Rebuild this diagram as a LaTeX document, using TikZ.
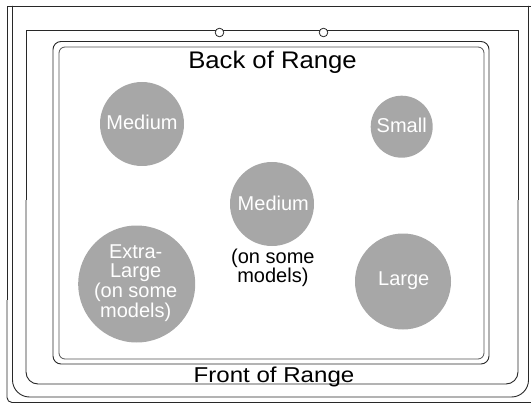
\documentclass[tikz,border=0pt]{standalone}
\usepackage{fontspec}
\setmainfont{Liberation Sans}
\definecolor{burnergray}{RGB}{167,167,167}
\definecolor{linedark}{RGB}{40,40,40}
\tikzset{
  frameline/.style={draw=linedark, line width=0.9pt},
  innerline/.style={draw=linedark!80, line width=0.8pt},
  burner/.style={circle, fill=burnergray, draw=none, inner sep=0pt},
  knob/.style={circle, draw=linedark, fill=white, line width=0.8pt, inner sep=0pt, minimum size=8.6pt},
  lbl/.style={anchor=base, inner sep=0pt, text=white, font=\fontsize{20}{20}\selectfont},
  blbl/.style={anchor=base, inner sep=0pt, text=black, font=\fontsize{20}{20}\selectfont},
  title/.style={anchor=base, inner sep=0pt, text=black}
}
\begin{document}
\begin{tikzpicture}[x=1pt,y=-1pt]
\useasboundingbox (0,0) rectangle (531,404);
\begin{scope}
\clip (0,0) rectangle (531,404);
% outermost frame line A
\draw[frameline] (545,6) -- (7,6) -- (7,300);
\draw[frameline, rounded corners=5] (7,300) -- (7,402.5) -- (545,402.5);
% frame line B
\draw[frameline, rounded corners=17] (12.5,6) -- (12.5,397) -- (528.5,397) -- (528.5,6);
% cooktop edge C
\draw[frameline] (26,200) -- (26,30.5) -- (518,30.5) -- (518,200);
\draw[frameline, rounded corners=12] (26,200) -- (26,384) -- (518,384) -- (518,200);
% glass surface D and E
\draw[frameline, rounded corners=8] (53,41.5) rectangle (489,364);
\draw[innerline, rounded corners=6] (59,47) rectangle (484,359);
\end{scope}
% knobs on the back edge
\node[knob] (k1) at (219.5,32.5) {};
\node[knob] (k2) at (323.5,32.5) {};
% burners
\node[burner, minimum size=84pt] (b1) at (142,124) {};
\node[burner, minimum size=62pt] (b2) at (401.7,126.7) {};
\node[burner, minimum size=84pt] (b3) at (272,204) {};
\node[burner, minimum size=117pt] (b4) at (136.7,284) {};
\node[burner, minimum size=96pt] (b5) at (403,281.5) {};
% labels
\node[lbl] (t1) at (142,129.3) {Medium};
\node[lbl] (t2) at (401.7,132.7) {Small};
\node[lbl] (t3) at (273.3,210.7) {Medium};
\node[blbl] (t3a) at (272.9,263.3) {(on some};
\node[blbl] (t3b) at (272.9,282.7) {models)};
\node[lbl] (t4a) at (135.7,258.3) {Extra-};
\node[lbl] (t4b) at (135.7,277.9) {Large};
\node[lbl] (t4c) at (135.7,297.6) {(on some};
\node[lbl] (t4d) at (135.7,317.3) {models)};
\node[lbl] (t5) at (403.8,285) {Large};
% titles
\node[title] (back) at (272.5,68.3) {\scalebox{1.07}[1]{\fontsize{24}{24}\selectfont Back of Range}};
\node[title] (front) at (274,382) {\scalebox{1.12}[1]{\fontsize{21.5}{21.5}\selectfont Front of Range}};
\end{tikzpicture}
\end{document}
